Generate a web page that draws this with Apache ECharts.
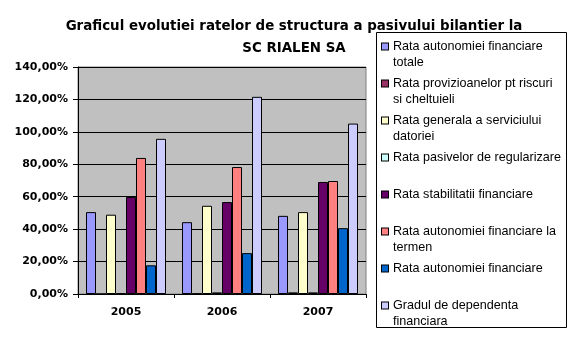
<!DOCTYPE html>
<html>
<head>
<meta charset="utf-8">
<script src="https://cdn.jsdelivr.net/npm/echarts@6/dist/echarts.min.js"></script>
<style>
html,body{margin:0;padding:0;background:#fff;}
#c{width:577px;height:341px;}
</style>
</head>
<body>
<div id="c"></div>
<script>
var categories = ["2005", "2006", "2007"];
var seriesNames = [
  "Rata autonomiei financiare totale",
  "Rata provizioanelor pt riscuri si cheltuieli",
  "Rata generala a serviciului datoriei",
  "Rata pasivelor de regularizare",
  "Rata stabilitatii financiare",
  "Rata autonomiei financiare la termen",
  "Rata autonomiei financiare",
  "Gradul de dependenta financiara"
];
var legendLines = [
  ["Rata autonomiei financiare", "totale"],
  ["Rata provizioanelor pt riscuri", "si cheltuieli"],
  ["Rata generala a serviciului", "datoriei"],
  ["Rata pasivelor de regularizare", ""],
  ["Rata stabilitatii financiare", ""],
  ["Rata autonomiei financiare la", "termen"],
  ["Rata autonomiei financiare", ""],
  ["Gradul de dependenta", "financiara"]
];
var rataAutonomieiTotale = [0.505, 0.443, 0.482];
var rataProvizioanelor = [0.0, 0.003, 0.010];
var rataServiciuluiDatoriei = [0.489, 0.544, 0.505];
var rataPasivelorRegularizare = [0.004, 0.010, 0.010];
var rataStabilitatii = [0.598, 0.567, 0.691];
var rataAutonomieiTermen = [0.839, 0.783, 0.697];
var rataAutonomiei = [0.177, 0.252, 0.406];
var graduDependenta = [0.957, 1.216, 1.051];
var seriesValues = [rataAutonomieiTotale, rataProvizioanelor, rataServiciuluiDatoriei,
  rataPasivelorRegularizare, rataStabilitatii, rataAutonomieiTermen, rataAutonomiei, graduDependenta];
var colors = ["#9999FF", "#993366", "#FFFFCC", "#CCFFFF", "#660066", "#FF8080", "#0066CC", "#CCCCFF"];
var yTicks = [0, 0.2, 0.4, 0.6, 0.8, 1.0, 1.2, 1.4];

var FONT = "Liberation Sans, Arial, sans-serif";
var BOLDFONT = "DejaVu Sans, Liberation Sans, sans-serif";
var rich = {
  gap: {width: 5},
  ind: {width: 11},
  t: {fontSize: 12.6, fontFamily: FONT, color: "#000", lineHeight: 16}
};
colors.forEach(function (c, i) {
  rich["m" + i] = {width: 6, height: 6, backgroundColor: c, borderColor: "#000", borderWidth: 1};
});

var chart = echarts.init(document.getElementById("c"), null, {renderer: "canvas"});
chart.setOption({
  animation: false,
  backgroundColor: "#fff",
  color: colors,
  title: {
    text: "Graficul evolutiei ratelor de structura a pasivului bilantier la\nSC RIALEN SA",
    left: 294,
    top: 16,
    padding: 0,
    textAlign: "center",
    textStyle: {fontFamily: BOLDFONT, fontWeight: "bold", fontSize: 13.4, lineHeight: 22, color: "#000"}
  },
  legend: {
    orient: "vertical",
    left: 376,
    top: 40,
    padding: 0,
    itemGap: 8,
    itemWidth: 0,
    itemHeight: 0,
    itemStyle: {opacity: 0},
    data: seriesNames,
    selectedMode: false,
    formatter: function (name) {
      var i = seriesNames.indexOf(name);
      var l = legendLines[i];
      return "{m" + i + "|}{gap|}{t|" + l[0] + "}\n{ind|}{t|" + (l[1] || " ") + "}";
    },
    textStyle: {rich: rich}
  },
  graphic: [{
    type: "rect",
    shape: {x: 376.5, y: 32.5, width: 190, height: 295},
    style: {fill: "none", stroke: "#000", lineWidth: 1},
    z: 0
  }],
  grid: {
    left: 78, right: 211, top: 67, bottom: 47,
    show: true, backgroundColor: "#C0C0C0", borderColor: "#808080", borderWidth: 1
  },
  xAxis: {
    type: "category",
    data: categories,
    axisLine: {lineStyle: {color: "#000", width: 1}},
    axisTick: {show: true, alignWithLabel: false, length: 4, lineStyle: {color: "#000"}},
    axisLabel: {fontFamily: BOLDFONT, fontWeight: "bold", fontSize: 11, color: "#000", margin: 13}
  },
  yAxis: {
    type: "value",
    min: 0, max: 1.4, interval: 0.2,
    axisLine: {show: true, lineStyle: {color: "#000", width: 1}},
    axisTick: {show: true, length: 5, inside: false, lineStyle: {color: "#000"}},
    splitLine: {show: true, lineStyle: {color: "#000", width: 1}},
    axisLabel: {
      fontFamily: BOLDFONT, fontWeight: "bold", fontSize: 11, color: "#000", margin: 10,
      formatter: function (v) { return (v * 100).toFixed(2).replace(".", ",") + "%"; }
    }
  },
  series: seriesNames.map(function (n, i) {
    return {
      name: n,
      type: "bar",
      data: seriesValues[i],
      barWidth: 10,
      barGap: "0%",
      itemStyle: {color: colors[i], borderColor: "#000", borderWidth: 1}
    };
  })
});
</script>
</body>
</html>
